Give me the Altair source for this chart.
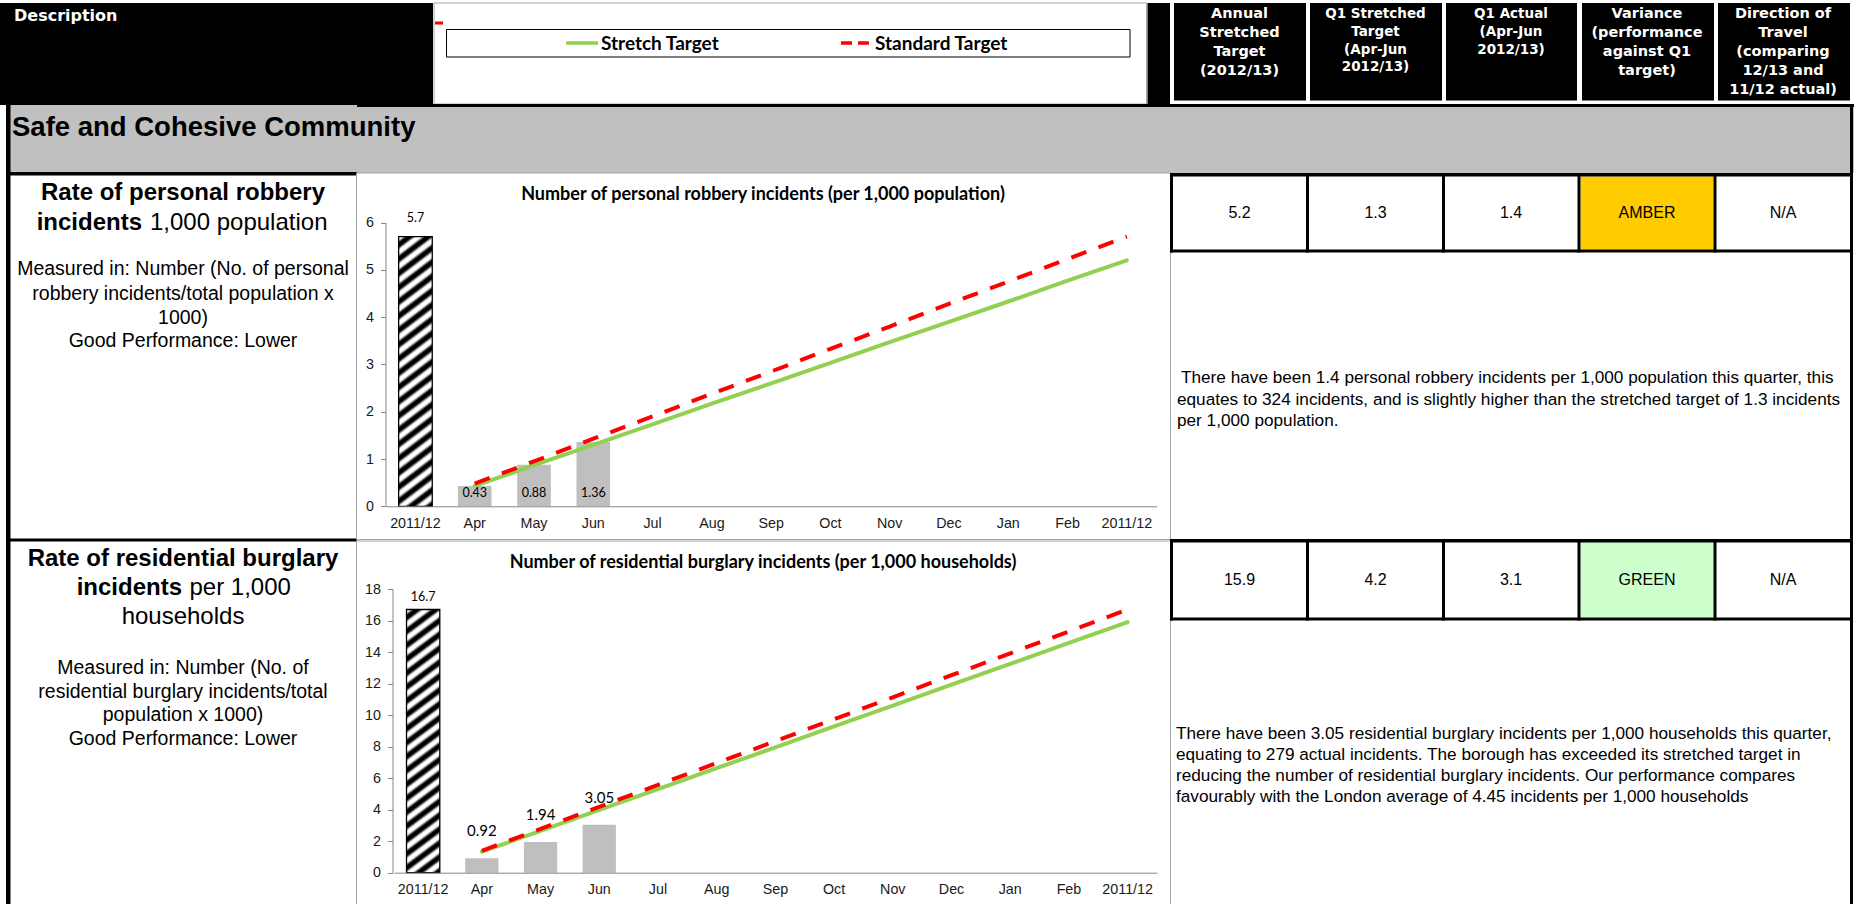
import json

import altair as alt
import pandas as pd

W, H = 1854, 904

# ---------------------------------------------------------------- data
months = ["2011/12", "Apr", "May", "Jun", "Jul", "Aug", "Sep",
          "Oct", "Nov", "Dec", "Jan", "Feb", "2011/12"]

robbery_last_year = 5.7
robbery_actual = [0.43, 0.88, 1.36]
robbery_stretch = [0.43, 0.87, 1.30, 1.73, 2.17, 2.60, 3.03, 3.47, 3.90, 4.33, 4.77, 5.20]
robbery_standard = [0.48, 0.95, 1.43, 1.90, 2.38, 2.85, 3.33, 3.80, 4.28, 4.75, 5.23, 5.70]
robbery_ticks = [0, 1, 2, 3, 4, 5, 6]

burglary_last_year = 16.7
burglary_actual = [0.92, 1.94, 3.05]
burglary_stretch = [1.33, 2.65, 3.98, 5.30, 6.63, 7.95, 9.28, 10.60, 11.93, 13.25, 14.58, 15.90]
burglary_standard = [1.39, 2.78, 4.18, 5.57, 6.96, 8.35, 9.74, 11.13, 12.53, 13.92, 15.31, 16.70]
burglary_ticks = [0, 2, 4, 6, 8, 10, 12, 14, 16, 18]

header_cols = [
    ["Annual", "Stretched", "Target", "(2012/13)"],
    ["Q1  Stretched", "Target", "(Apr-Jun", "2012/13)"],
    ["Q1  Actual", "(Apr-Jun", "2012/13)"],
    ["Variance", "(performance", "against Q1", "target)"],
    ["Direction of", "Travel", "(comparing", "12/13 and", "11/12  actual)"],
]
robbery_row = ["5.2", "1.3", "1.4", "AMBER", "N/A"]
burglary_row = ["15.9", "4.2", "3.1", "GREEN", "N/A"]

robbery_comment = [
    "There have been 1.4 personal robbery incidents per 1,000 population this quarter, this",
    "equates to 324 incidents, and is slightly higher than the stretched target of 1.3 incidents",
    "per 1,000 population.",
]
burglary_comment = [
    "There have been 3.05 residential burglary incidents per 1,000 households this quarter,",
    "equating to 279 actual incidents.  The borough has exceeded its stretched target in",
    "reducing the number of residential burglary incidents.  Our performance compares",
    "favourably with the London average of 4.45 incidents per 1,000 households",
]

# ---------------------------------------------------------------- styles
ARIAL = "Liberation Sans, Arial, sans-serif"
CALIBRI = "Lato, Open Sans, sans-serif"
TAHOMA = "DejaVu Sans, Verdana, sans-serif"
GREEN = "#92D050"
RED = "#FF0000"
BAR_GREY = "#BFBFBF"
AXIS_GREY = "#868686"
FRAME_GREY = "#A6A6A6"

PX = alt.Scale(domain=[0, W], range=[0, W], nice=False, zero=False)
PY = alt.Scale(domain=[0, H], range=[0, H], nice=False, zero=False)


def boxes(rows):
    df = pd.DataFrame(rows, columns=["x0", "y0", "x1", "y1", "fill", "stroke", "sw"])
    return alt.Chart(df).mark_rect().encode(
        x=alt.X("x0:Q", scale=PX, axis=None), x2="x1:Q",
        y=alt.Y("y0:Q", scale=PY, axis=None), y2="y1:Q",
        fill=alt.Fill("fill:N", scale=None),
        stroke=alt.Stroke("stroke:N", scale=None),
        strokeWidth=alt.StrokeWidth("sw:Q", scale=None),
    )


def texts(rows, size, weight="normal", font=ARIAL, align="center", color="#000000"):
    df = pd.DataFrame(rows, columns=["x", "y", "t"])
    return alt.Chart(df).mark_text(
        font=font, fontSize=size, fontWeight=weight, align=align,
        baseline="middle", color=color,
    ).encode(
        x=alt.X("x:Q", scale=PX, axis=None),
        y=alt.Y("y:Q", scale=PY, axis=None),
        text="t:N",
    )


def key_line(x0, x1, y, color, dash=None):
    df = pd.DataFrame({"x0": [x0], "x1": [x1], "y": [y]})
    kw = dict(color=color, strokeWidth=3.5)
    if dash:
        kw["strokeDash"] = dash
    return alt.Chart(df).mark_rule(**kw).encode(
        x=alt.X("x0:Q", scale=PX, axis=None), x2="x1:Q",
        y=alt.Y("y:Q", scale=PY, axis=None),
    )


def stripe_fill(cycles=21, tilt=0.104, depth=1.1):
    """Diagonal black/white hatching as a repeated linear gradient."""
    stops = []
    step = 1.0 / cycles
    for i in range(cycles):
        b = i * step
        for frac, col in [(0.0, "#ffffff"), (0.2, "#ffffff"), (0.45, "#000000"),
                          (0.7, "#000000"), (0.95, "#ffffff")]:
            stops.append({"offset": round(b + frac * step, 5), "color": col})
    return {"gradient": "linear", "x1": 0, "y1": 0, "x2": tilt, "y2": depth, "stops": stops}


def trend_panel(last_year, actual, stretch, standard, ticks, x_range, y_range,
                axis_x, month_label_dy, month_label_size, month_on_base, year_dy):
    slots = list(range(len(months)))
    xs = alt.Scale(type="band", domain=slots, range=x_range,
                   paddingInner=0.433, paddingOuter=0.2165)
    ys = alt.Scale(domain=[0, ticks[-1]], range=y_range, nice=False, zero=True)
    label_expr = json.dumps(months) + "[datum.value]"
    x_axis = alt.Axis(orient="bottom", offset=y_range[0] - H, labelExpr=label_expr,
                      ticks=False, domainColor=AXIS_GREY, domainWidth=1, zindex=1,
                      labelFont=ARIAL, labelFontSize=14.3, labelColor="#1a1a1a",
                      labelPadding=10, labelAngle=0, title=None, grid=False)
    y_axis = alt.Axis(orient="left", offset=-axis_x, values=ticks, format="d",
                      tickSize=5, tickColor=AXIS_GREY, domainColor=AXIS_GREY, zindex=1,
                      labelFont=ARIAL, labelFontSize=14.3, labelColor="#1a1a1a",
                      labelPadding=7, title=None, grid=False)

    def X(axis=None):
        return alt.X("slot:O", scale=xs, axis=axis)

    def Y(field="value", axis=None):
        return alt.Y(f"{field}:Q", scale=ys, axis=axis)

    prev = pd.DataFrame({"slot": [0], "value": [last_year]})
    bars = pd.DataFrame({"slot": [1, 2, 3], "value": actual, "base": [0, 0, 0]})
    s_line = pd.DataFrame({"slot": slots[1:], "value": stretch})
    d_line = pd.DataFrame({"slot": slots[1:], "value": standard})

    hatched = alt.Chart(prev).mark_bar(
        fill=stripe_fill(), stroke="#000000", strokeWidth=1.3
    ).encode(x=X(x_axis), y=Y(axis=y_axis))
    grey = alt.Chart(bars).mark_bar(color=BAR_GREY).encode(x=X(), y=Y())
    prev_lab = alt.Chart(prev).mark_text(
        font=CALIBRI, fontSize=12.5, dy=year_dy, color="#000000"
    ).encode(x=X(), y=Y(), text=alt.Text("value:Q", format=".1f"))
    month_lab = alt.Chart(bars).mark_text(
        font=CALIBRI, fontSize=month_label_size, dy=month_label_dy, color="#000000"
    ).encode(x=X(), y=Y("base" if month_on_base else "value"),
             text=alt.Text("value:Q", format=".2f"))
    stretch_line = alt.Chart(s_line).mark_line(
        color=GREEN, strokeWidth=4, strokeCap="round"
    ).encode(x=X(), y=Y())
    standard_line = alt.Chart(d_line).mark_line(
        color=RED, strokeWidth=4, strokeDash=[16, 13]
    ).encode(x=X(), y=Y())
    return [hatched, grey, prev_lab, month_lab, stretch_line, standard_line]


# ---------------------------------------------------------------- table frame
col_mid = [1239.5, 1375.5, 1511, 1647, 1783]

frame = [
    # header band
    (0, 3, 433, 105, "#000000", "transparent", 0),
    (434, 3, 1146.5, 104, "#ffffff", FRAME_GREY, 1),
    (1147.5, 3, 1170, 104, "#000000", "transparent", 0),
]
frame += [(l, 3, r, 100.5, "#000000", "transparent", 0)
          for l, r in zip([1174, 1310, 1446, 1582, 1718], [1306, 1442, 1577, 1714, 1850])]
frame += [
    (435, 21.5, 443, 24.5, RED, "transparent", 0),
    (446.5, 29.5, 1130, 57, "#ffffff", "#000000", 1),
    # section band
    (6, 105, 1854, 173, "#C0C0C0", "transparent", 0),
    (357, 104, 1854, 107, "#000000", "transparent", 0),
    (1850, 104, 1853, 173, "#000000", "transparent", 0),
    # left column frame
    (6, 105, 10.5, 904, "#000000", "transparent", 0),
    (10, 172, 357, 175.5, "#000000", "transparent", 0),
    (10, 538.5, 357, 541.5, "#000000", "transparent", 0),
    # chart panels
    (356.5, 173, 1170.5, 539.5, "#ffffff", FRAME_GREY, 1),
    (356.5, 541, 1170.5, 905, "#ffffff", FRAME_GREY, 1),
    # right column outer edge
    (1850, 173, 1853, 904, "#000000", "transparent", 0),
    # status cells
    (1580.5, 176.5, 1713.5, 249.5, "#FFCC00", "transparent", 0),
    (1580.5, 542, 1713.5, 617.5, "#CCFFCC", "transparent", 0),
]
for top, bottom in [(173, 252.5), (539, 620.5)]:
    frame += [
        (1170, top, 1853, top + 3.5, "#000000", "transparent", 0),
        (1170, bottom - 3, 1853, bottom, "#000000", "transparent", 0),
        (1170, top, 1173, bottom, "#000000", "transparent", 0),
    ]
    frame += [(x - 1.5, top, x + 1.5, bottom, "#000000", "transparent", 0)
              for x in [1307.5, 1443.5, 1579, 1715]]

layers = [boxes(frame)]

# legend key
layers += [
    key_line(566, 598, 43, GREEN),
    key_line(841, 869, 43, RED, dash=[11, 6]),
    texts([(601, 43.5, "Stretch Target"), (875, 43.5, "Standard Target")], 19,
          weight="bold", font=CALIBRI, align="left"),
]

# header text
layers.append(texts([(14, 16, "Description")], 16, weight="bold", font=TAHOMA,
                    align="left", color="#ffffff"))
head_rows_big, head_rows_small = [], []
line_y = {4: [14, 33, 52, 71], 3: [14, 32, 50], 5: [14, 33, 52, 71, 90]}
for i, (mid, lines) in enumerate(zip(col_mid, header_cols)):
    ys = [14, 32, 50, 67] if i == 1 else line_y[len(lines)]
    target = head_rows_small if i in (1, 2) else head_rows_big
    target += [(mid, y, t) for y, t in zip(ys, lines)]
layers.append(texts(head_rows_big, 14.5, weight="bold", font=TAHOMA, color="#ffffff"))
layers.append(texts(head_rows_small, 13.5, weight="bold", font=TAHOMA, color="#ffffff"))

# section title
layers.append(texts([(12, 127.5, "Safe and Cohesive Community")], 27.5, weight="bold",
                    align="left"))

# indicator descriptions
layers.append(texts([(183, 193, "Rate of personal robbery"),
                     (183, 559, "Rate of residential burglary")], 24, weight="bold"))
layers.append(texts([(142, 223, "incidents"), (182, 588, "incidents")], 24,
                    weight="bold", align="right"))
layers.append(texts([(150, 223, "1,000 population"), (189.5, 588, "per 1,000")], 24,
                    align="left"))
layers.append(texts([(183, 617, "households")], 24))
layers.append(texts([
    (183, 269, "Measured in: Number (No. of personal"),
    (183, 294, "robbery incidents/total population x"),
    (183, 318, "1000)"),
    (183, 341, "Good Performance: Lower"),
    (183, 668, "Measured in: Number (No. of"),
    (183, 692, "residential burglary incidents/total"),
    (183, 715, "population x 1000)"),
    (183, 739, "Good Performance: Lower"),
], 19.5))

# chart titles
layers.append(texts([
    (763, 195, "Number of personal robbery incidents (per 1,000 population)"),
    (763, 563, "Number of residential burglary incidents (per 1,000 households)"),
], 18, weight="bold", font=CALIBRI))

# measures table
layers.append(texts([(x, 213, t) for x, t in zip(col_mid, robbery_row)] +
                    [(x, 580, t) for x, t in zip(col_mid, burglary_row)], 16))

# commentary
comment_rows = [(1181 if i == 0 else 1177, y, t)
                for i, (y, t) in enumerate(zip([378, 399.5, 420.5], robbery_comment))]
comment_rows += [(1176, y, t) for y, t in zip([734, 755, 776, 797], burglary_comment)]
layers.append(texts(comment_rows, 17.2, align="left"))

# the two trend charts
layers += trend_panel(robbery_last_year, robbery_actual, robbery_stretch, robbery_standard,
                      robbery_ticks, [385.8, 1156.5], [506.3, 222.5], 385.5,
                      month_label_dy=-13.5, month_label_size=12.5, month_on_base=True,
                      year_dy=-19)
layers += trend_panel(burglary_last_year, burglary_actual, burglary_stretch, burglary_standard,
                      burglary_ticks, [393.8, 1157], [872.7, 589.0], 392.5,
                      month_label_dy=-27, month_label_size=15, month_on_base=False,
                      year_dy=-12)

chart = alt.layer(*layers).resolve_scale(
    x="independent", y="independent"
).properties(
    width=W, height=H, padding=0, background="#ffffff",
    autosize=alt.AutoSizeParams(type="none"),
).configure_view(stroke=None)

chart.save("out.html", embed_options={"renderer": "svg", "actions": False})
